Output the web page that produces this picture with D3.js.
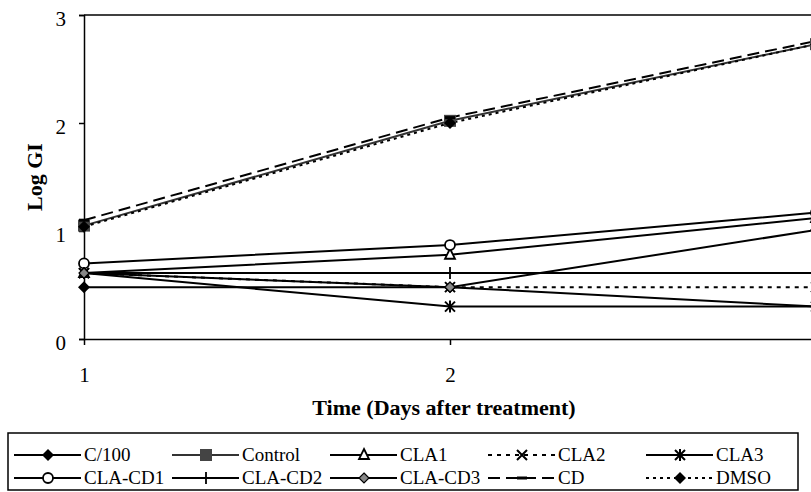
<!DOCTYPE html>
<html><head><meta charset="utf-8">
<script src="https://cdn.jsdelivr.net/npm/d3@7"></script>
<style>body{margin:0;background:#fff}svg{display:block}text{font-family:"Liberation Serif","Times New Roman",serif}</style>
</head><body><div id="c"></div>
<script>
const days = [1, 2, 3];
const yTicks = [0, 1, 2, 3];
const xTicks = [1, 2, 3];
const seriesNames = ["C/100", "Control", "CLA1", "CLA2", "CLA3", "CLA-CD1", "CLA-CD2", "CLA-CD3", "CD", "DMSO"];
const c100   = [0.48, 0.48, 0.30];
const control= [1.05, 2.02, 2.73];
const cla1   = [0.61, 0.78, 1.12];
const cla2   = [0.61, 0.48, 0.48];
const cla3   = [0.61, 0.30, 0.30];
const clacd1 = [0.70, 0.87, 1.17];
const clacd2 = [0.61, 0.61, 0.61];
const clacd3 = [0.61, 0.48, 1.01];
const cd     = [1.10, 2.05, 2.76];
const dmso   = [1.04, 2.00, 2.73];
const seriesValues = [c100, control, cla1, cla2, cla3, clacd1, clacd2, clacd3, cd, dmso];

const styles = {
  "C/100":   {dash:null, marker:"diamond", color:"#000"},
  "Control": {dash:null, marker:"square", color:"#333"},
  "CLA1":    {dash:null, marker:"triangle", color:"#000"},
  "CLA2":    {dash:"4,5", marker:"x", color:"#000"},
  "CLA3":    {dash:null, marker:"star", color:"#000"},
  "CLA-CD1": {dash:null, marker:"circle", color:"#000"},
  "CLA-CD2": {dash:null, marker:"plus", color:"#000"},
  "CLA-CD3": {dash:null, marker:"greydiamond", color:"#000"},
  "CD":      {dash:"12,6", marker:"dash", color:"#000"},
  "DMSO":    {dash:"3,4", marker:"diamond", color:"#000"}
};

const W = 811, H = 492;
const svg = d3.select("#c").append("svg").attr("width", W).attr("height", H);
const x = d3.scaleLinear().domain([1, 3]).range([84, 816]);
const y = d3.scaleLinear().domain([0, 3]).range([339, 15]);

// top border
svg.append("line").attr("x1", 84).attr("x2", W).attr("y1", y(3)).attr("y2", y(3))
  .attr("stroke", "#000").attr("stroke-width", 1.5);

const yAxis = svg.append("g").attr("transform", "translate(84,0)")
  .call(d3.axisLeft(y).tickValues(yTicks).tickFormat(d3.format("d")).tickSize(5).tickPadding(13));
const xAxis = svg.append("g").attr("transform", "translate(0,339)")
  .call(d3.axisBottom(x).tickValues(xTicks).tickFormat(d3.format("d")).tickSize(6).tickSizeOuter(0).tickPadding(22));
[yAxis, xAxis].forEach(g => {
  g.select(".domain").attr("stroke", "#000").attr("stroke-width", 1.5);
  g.selectAll(".tick line").attr("stroke", "#000").attr("stroke-width", 1.5);
  g.selectAll("text").attr("font-size", 21).attr("fill", "#000")
   .style("font-family", '"Liberation Serif", serif');
});
yAxis.selectAll("text").attr("dy", "0.5em");
xAxis.select(".domain").attr("d", "M84,0.5H" + W);

svg.append("text").attr("x", 444).attr("y", 415).attr("text-anchor", "middle")
  .attr("font-size", 22).attr("font-weight", "bold").text("Time (Days after treatment)");
svg.append("text").attr("transform", "translate(42,177) rotate(-90)").attr("text-anchor", "middle")
  .attr("font-size", 22).attr("font-weight", "bold").text("Log GI");

function drawMarker(g, type, cx, cy) {
  const s = 5;
  switch (type) {
    case "diamond":
      g.append("path").attr("d", `M${cx},${cy-s-1}L${cx+s+1},${cy}L${cx},${cy+s+1}L${cx-s-1},${cy}Z`).attr("fill", "#000"); break;
    case "greydiamond":
      g.append("path").attr("d", `M${cx},${cy-s}L${cx+s},${cy}L${cx},${cy+s}L${cx-s},${cy}Z`).attr("fill", "#888").attr("stroke", "#000").attr("stroke-width", 1.2); break;
    case "square":
      g.append("rect").attr("x", cx-s-1).attr("y", cy-s-1).attr("width", 2*s+2).attr("height", 2*s+2).attr("fill", "#444"); break;
    case "triangle":
      g.append("path").attr("d", `M${cx},${cy-s-1}L${cx+s},${cy+s-1}L${cx-s},${cy+s-1}Z`).attr("fill", "#fff").attr("stroke", "#000").attr("stroke-width", 1.8); break;
    case "circle":
      g.append("circle").attr("cx", cx).attr("cy", cy).attr("r", s).attr("fill", "#fff").attr("stroke", "#000").attr("stroke-width", 1.8); break;
    case "x":
      g.append("path").attr("d", `M${cx-s},${cy-s}L${cx+s},${cy+s}M${cx-s},${cy+s}L${cx+s},${cy-s}`).attr("stroke", "#000").attr("stroke-width", 2); break;
    case "star":
      g.append("path").attr("d", `M${cx-s},${cy-s}L${cx+s},${cy+s}M${cx-s},${cy+s}L${cx+s},${cy-s}M${cx},${cy-s-1}L${cx},${cy+s+1}`).attr("stroke", "#000").attr("stroke-width", 2); break;
    case "plus":
      g.append("path").attr("d", `M${cx},${cy-s-1}L${cx},${cy+s+1}M${cx-s},${cy}L${cx+s},${cy}`).attr("stroke", "#000").attr("stroke-width", 1.8); break;
    case "dash":
      g.append("path").attr("d", `M${cx-s},${cy}L${cx+s},${cy}`).attr("stroke", "#000").attr("stroke-width", 3); break;
  }
}

const line = d3.line().x((d, i) => x(days[i])).y(d => y(d));
const plot = svg.append("g");
seriesNames.forEach((name, k) => {
  const st = styles[name];
  plot.append("path").datum(seriesValues[k]).attr("d", line).attr("fill", "none")
    .attr("stroke", st.color).attr("stroke-width", 2).attr("stroke-dasharray", st.dash);
});
seriesNames.forEach((name, k) => {
  const st = styles[name];
  const mg = plot.append("g");
  seriesValues[k].forEach((v, i) => drawMarker(mg, st.marker, x(days[i]), y(v)));
});

// legend
const lg = svg.append("g");
lg.append("rect").attr("x", 8).attr("y", 433).attr("width", 790).attr("height", 57)
  .attr("fill", "#fff").attr("stroke", "#000").attr("stroke-width", 1.5);
seriesNames.forEach((name, k) => {
  const col = k % 5, row = Math.floor(k / 5);
  const x0 = 14 + col * 158, yy = row === 0 ? 455 : 478;
  const st = styles[name];
  lg.append("line").attr("x1", x0).attr("x2", x0 + 67).attr("y1", yy).attr("y2", yy)
    .attr("stroke", st.color).attr("stroke-width", 2).attr("stroke-dasharray", st.dash);
  drawMarker(lg, st.marker, x0 + 34, yy);
  lg.append("text").attr("x", x0 + 70).attr("y", yy + 6).attr("font-size", 19).text(name);
});
</script></body></html>
